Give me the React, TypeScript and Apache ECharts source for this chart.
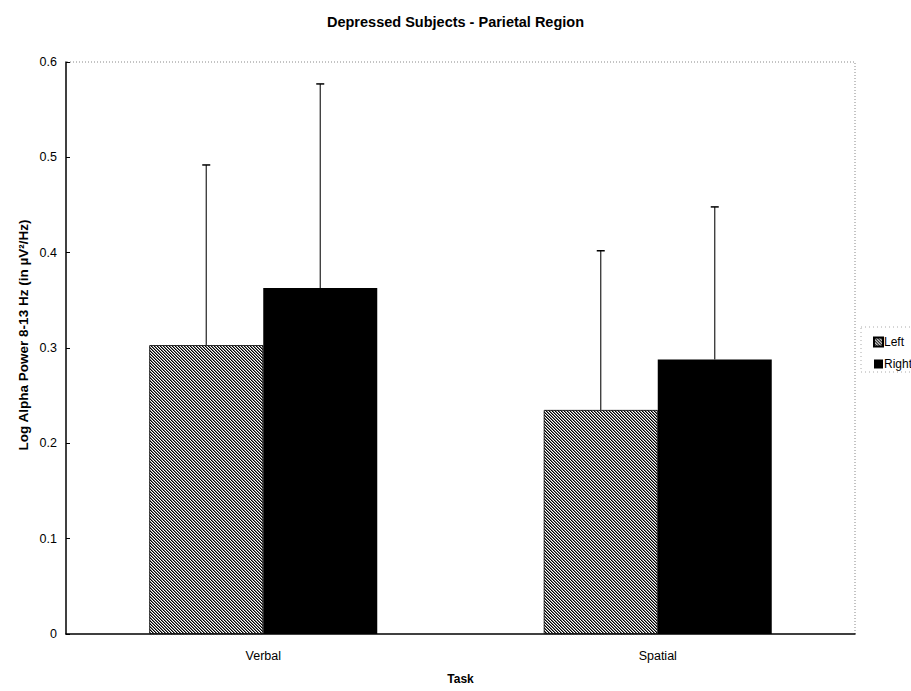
import React, { useEffect, useRef } from "react";
import * as echarts from "echarts";

const categories = ["Verbal", "Spatial"];
const seriesNames = ["Left", "Right"];
const leftMeans = [0.303, 0.235];
const rightMeans = [0.363, 0.288];
const leftUpper = [0.492, 0.402];
const rightUpper = [0.577, 0.448];
const yTicks = [0, 0.1, 0.2, 0.3, 0.4, 0.5, 0.6];
const yTitle = "Log Alpha Power 8-13 Hz (in µV²/Hz)";

const FONT = "'Liberation Sans', Arial, sans-serif";
const BAR_W = 114;

function makeHatch(): HTMLCanvasElement {
  const c = document.createElement("canvas");
  c.width = 3;
  c.height = 3;
  const ctx = c.getContext("2d")!;
  ctx.fillStyle = "#fff";
  ctx.fillRect(0, 0, 3, 3);
  for (let i = 0; i < 3; i++) {
    ctx.fillStyle = "#000";
    ctx.fillRect(i, i, 1, 1);
    ctx.fillStyle = "#777";
    ctx.fillRect((i + 1) % 3, i, 1, 1);
  }
  return c;
}

export default function App() {
  const ref = useRef<HTMLDivElement>(null);
  useEffect(() => {
    document.body.style.margin = "0";
    const chart = echarts.init(ref.current!, null, { renderer: "svg" });
    const hatch = { image: makeHatch(), repeat: "repeat" };
    const errData = [
      ...categories.map((_, i) => [i, leftMeans[i], leftUpper[i], -1]),
      ...categories.map((_, i) => [i, rightMeans[i], rightUpper[i], 1]),
    ];
    chart.setOption({
      animation: false,
      backgroundColor: "#fff",
      title: {
        text: "Depressed Subjects - Parietal Region",
        left: "center",
        top: 9,
        textStyle: { fontFamily: FONT, fontSize: 14.5, fontWeight: "bold", color: "#000" },
      },
      legend: {
        orient: "vertical",
        left: 868,
        top: 331,
        itemWidth: 9,
        itemHeight: 9,
        itemGap: 10,
        icon: "rect",
        data: seriesNames,
        textStyle: { fontFamily: FONT, fontSize: 12, color: "#000", padding: [0, 0, 0, -4] },
      },
      grid: { left: 66, right: 56, top: 62, bottom: 57 },
      xAxis: {
        type: "category",
        data: categories,
        name: "Task",
        nameLocation: "middle",
        nameGap: 39,
        nameTextStyle: { fontFamily: FONT, fontSize: 12, fontWeight: "bold", color: "#000" },
        axisLine: { lineStyle: { color: "#000", width: 1.5 } },
        axisTick: { show: false },
        axisLabel: { fontFamily: FONT, fontSize: 12.5, color: "#000", margin: 15 },
      },
      yAxis: {
        type: "value",
        min: 0,
        max: 0.6,
        interval: 0.1,
        axisLine: { show: true, lineStyle: { color: "#000", width: 1.5 } },
        axisTick: { show: true, inside: true, length: 4, lineStyle: { color: "#000" } },
        splitLine: { show: false },
        axisLabel: {
          fontFamily: FONT,
          fontSize: 12.5,
          color: "#000",
          margin: 9,
          formatter: (v: number) => {
            const t = yTicks.find((x) => Math.abs(x - v) < 1e-9);
            return t === 0 ? "0" : (t ?? v).toFixed(1);
          },
        },
      },
      series: [
        {
          name: "Left",
          type: "bar",
          data: leftMeans,
          barWidth: BAR_W,
          barGap: "0%",
          itemStyle: { color: hatch, borderColor: "#000", borderWidth: 0.8 },
        },
        {
          name: "Right",
          type: "bar",
          data: rightMeans,
          barWidth: BAR_W,
          barGap: "0%",
          itemStyle: { color: "#000" },
        },
        {
          type: "custom",
          silent: true,
          data: errData,
          z: 5,
          renderItem: (params: any, api: any) => {
            const i = api.value(0);
            const side = api.value(3);
            const base = api.coord([i, api.value(1)]);
            const top = api.coord([i, api.value(2)]);
            const x = base[0] + (side * BAR_W) / 2;
            const style = { stroke: "#222", lineWidth: 1.2 };
            return {
              type: "group",
              children: [
                { type: "line", shape: { x1: x, y1: base[1], x2: x, y2: top[1] }, style },
                { type: "line", shape: { x1: x - 4, y1: top[1], x2: x + 4, y2: top[1] }, style: { stroke: "#000", lineWidth: 1.5 } },
              ],
            };
          },
        },
      ],
      graphic: [
        {
          type: "polyline",
          shape: { points: [[67, 62], [855, 62], [855, 634]] },
          style: { stroke: "#888", lineWidth: 1, lineDash: [1, 2], fill: null },
        },
        {
          type: "rect",
          shape: { x: 861, y: 327, width: 60, height: 45 },
          style: { stroke: "#aaa", lineWidth: 1, lineDash: [1, 3], fill: null },
        },
        {
          type: "text",
          x: 23,
          y: 335,
          rotation: Math.PI / 2,
          style: {
            text: yTitle,
            fontFamily: FONT,
            fontSize: 13.5,
            fontWeight: "bold",
            fill: "#000",
            align: "center",
            verticalAlign: "middle",
          },
        },
      ],
    });
    return () => chart.dispose();
  }, []);
  return <div ref={ref} style={{ width: 911, height: 691 }} />;
}
